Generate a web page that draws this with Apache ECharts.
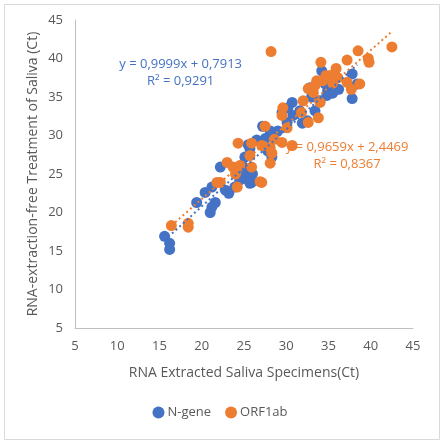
<!DOCTYPE html>
<html><head><meta charset="utf-8">
<script src="https://cdn.jsdelivr.net/npm/echarts@6/dist/echarts.min.js"></script>
<style>html,body{margin:0;padding:0;background:#fff}#c{width:440px;height:440px}</style>
</head><body><div id="c"></div>
<script>
var seriesNames = ['N-gene', 'ORF1ab'];
var nGeneX = [15.6,16.2,16.2,19.4,20.4,21.2,21.0,21.2,21.6,22.2,23.2,23.9,24.5,25.4,25.7,24.2,24.8,25.1,25.7,26.5,27.5,28.1,25.9,24.8,25.5,27.2,28.3,30.1,30.2,30.8,30.7,31.9,32.5,32.8,34.0,34.2,34.9,34.8,34.6,33.4,37.8,37.8,38.4,31.6,29.5,29.0,22.8,26.0,27.8,33.0,35.5,36.2];
var nGeneY = [16.9,16.0,15.2,21.3,22.6,23.3,20.0,20.7,21.3,25.9,22.5,23.3,24.2,25.1,23.8,25.5,26.1,27.2,28.3,29.4,29.6,30.6,23.9,24.4,28.8,31.2,27.2,31.7,33.6,32.6,34.3,31.6,31.9,36.2,34.5,38.4,35.8,35.2,36.7,33.2,38.0,34.8,36.7,33.2,33.0,30.6,22.9,25.0,28.0,35.0,35.5,36.0];
var orfX = [28.2,42.5,38.5,39.7,39.8,37.2,34.1,35.9,35.2,36.1,37.2,38.7,37.7,33.6,34.3,33.2,34.0,33.8,32.6,32.0,32.6,29.6,29.5,30.1,27.5,30.7,29.5,28.1,28.3,28.1,27.1,25.9,25.7,25.9,24.3,27.1,24.2,23.0,23.7,22.2,16.4,18.4,18.4,21.8,24.5,26.9,28.6,31.8,33.4,24.0,34.7,35.5];
var orfY = [40.9,41.5,41.0,40.0,39.5,39.8,39.5,38.7,37.8,37.5,36.9,36.7,36.0,37.1,37.1,35.6,34.3,32.3,36.1,34.5,31.7,33.6,32.6,31.0,31.2,28.7,29.1,28.4,27.7,26.4,28.7,29.0,27.4,25.9,29.0,23.9,23.3,26.5,25.9,23.9,18.3,18.6,18.1,23.9,26.1,24.0,29.5,33.0,36.5,25.0,37.8,36.8];
var slopes = [0.9999, 0.9659];
var intercepts = [0.7913, 2.4469];
var equations = ['y = 0,9999x + 0,7913\nR² = 0,9291', 'y = 0,9659x + 2,4469\nR² = 0,8367'];
var xTicks = [5, 10, 15, 20, 25, 30, 35, 40, 45];
var yTicks = [5, 10, 15, 20, 25, 30, 35, 40, 45];
var titles = ['RNA Extracted Saliva Specimens(Ct)', 'RNA-extraction-free Treatment of Saliva (Ct)'];

var colors = ['#4472C4', '#ED7D31'];
function pairs(xs, ys) { return xs.map(function (x, i) { return [x, ys[i]]; }); }
function fitLine(xs, k) {
  var lo = Math.min.apply(null, xs), hi = Math.max.apply(null, xs);
  return [[lo, slopes[k] * lo + intercepts[k]], [hi, slopes[k] * hi + intercepts[k]]];
}
var chart = echarts.init(document.getElementById('c'), null, { renderer: 'canvas' });
var axisCommon = {
  min: xTicks[0], max: xTicks[xTicks.length - 1], interval: 5,
  axisLine: { show: true, lineStyle: { color: '#BFBFBF', width: 1 } },
  axisTick: { show: false },
  splitLine: { show: false },
  axisLabel: { color: '#595959', fontSize: 13, fontFamily: 'Open Sans' },
  nameTextStyle: { color: '#595959', fontSize: 14, fontFamily: 'Open Sans' }
};
chart.setOption({
  animation: false,
  backgroundColor: '#fff',
  grid: { left: 75, top: 20, right: 27, bottom: 112, containLabel: false },
  xAxis: Object.assign({}, axisCommon, {
    type: 'value', name: titles[0], nameLocation: 'middle', nameGap: 38,
    axisLabel: Object.assign({}, axisCommon.axisLabel, { margin: 12 })
  }),
  yAxis: Object.assign({}, axisCommon, {
    type: 'value', min: yTicks[0], max: yTicks[yTicks.length - 1],
    axisLabel: Object.assign({}, axisCommon.axisLabel, { margin: 12 })
  }),
  legend: {
    bottom: 16, left: 'center', itemGap: 14, itemWidth: 12, itemHeight: 12,
    data: [{ name: seriesNames[0], icon: 'circle' }, { name: seriesNames[1], icon: 'circle' }],
    textStyle: { color: '#595959', fontSize: 13, fontFamily: 'Open Sans', padding: [0, 0, 0, -2] }
  },
  graphic: [{
    type: 'rect', left: 2, top: 2, shape: { width: 435, height: 435 },
    style: { fill: 'none', stroke: '#D9D9D9', lineWidth: 1 }, silent: true, z: -1
  }, {
    type: 'text', x: 33, y: 174, rotation: Math.PI / 2, silent: true,
    style: { text: titles[1], fill: '#595959', fontSize: 14, fontFamily: 'Open Sans', align: 'center', verticalAlign: 'middle' }
  }],
  series: [
    { name: seriesNames[0], type: 'scatter', symbolSize: 11, data: pairs(nGeneX, nGeneY),
      itemStyle: { color: colors[0], opacity: 1 }, z: 2 },
    { name: seriesNames[1], type: 'scatter', symbolSize: 11, data: pairs(orfX, orfY),
      itemStyle: { color: colors[1], opacity: 1 }, z: 3 },
    { name: 'fitN', type: 'line', data: fitLine(nGeneX, 0), showSymbol: false, symbol: 'none',
      lineStyle: { color: colors[0], width: 2, type: [2, 3] }, z: 4, silent: true,
      markPoint: { symbol: 'rect', symbolSize: 0, data: [{ coord: [17.5, 38.2], value: 0 }],
        label: { show: true, formatter: equations[0], color: colors[0], fontSize: 13, fontFamily: 'Open Sans', lineHeight: 17, align: 'center' } } },
    { name: 'fitO', type: 'line', data: fitLine(orfX, 1), showSymbol: false, symbol: 'none',
      lineStyle: { color: colors[1], width: 2, type: [2, 3] }, z: 4, silent: true,
      markPoint: { symbol: 'rect', symbolSize: 0, data: [{ coord: [37.2, 27.3], value: 0 }],
        label: { show: true, formatter: equations[1], color: colors[1], fontSize: 13, fontFamily: 'Open Sans', lineHeight: 17, align: 'center' } } }
  ]
});
</script></body></html>
